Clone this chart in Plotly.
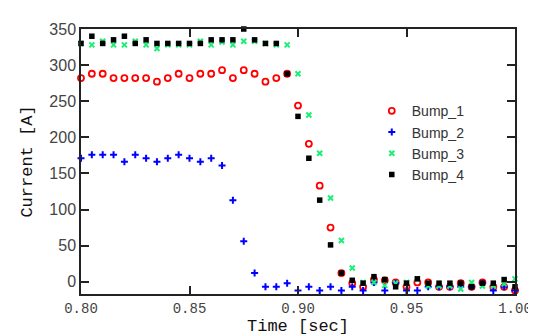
import plotly.graph_objects as go

time = [round(0.80 + 0.005 * i, 3) for i in range(41)]

bump_1 = [282, 288, 288, 282, 282, 282, 282, 277, 282, 288,
          282, 288, 288, 293, 282, 293, 288, 277, 282, 288,
          244, 191, 133, 75, 12, -2, -7, 3, 2, -1,
          -7, -1, -1, -7, -7, -2, -7, -1, -7, -7, -12]
bump_2 = [171, 176, 176, 176, 166, 176, 171, 166, 171, 176,
          171, 166, 171, 161, 113, 56, 12, -7, -7, -2,
          -12, -7, -12, -7, -12, -7, -12, -1, -12, -2,
          -12, -12, -7, -7, -7, -7, -7, -2, -12, -7, -12]
bump_3 = [330, 328, 333, 328, 328, 333, 328, 323, 328, 328,
          328, 333, 328, 332, 328, 333, 333, 330, 328, 328,
          288, 231, 178, 116, 57, 19, -1, -1, -5, -2,
          -1, 4, -6, -6, -6, -10, -1, -6, -6, -3, 4]
bump_4 = [330, 340, 330, 335, 340, 330, 335, 330, 330, 330,
          330, 330, 335, 335, 335, 350, 335, 330, 330, 288,
          229, 171, 113, 51, 12, 2, -2, 7, 3, -7,
          -2, 4, -2, -2, -2, -2, -7, -2, -2, 3, -7]

x_ticks = [0.80, 0.85, 0.90, 0.95, 1.00]
x_tick_labels = ["0.80", "0.85", "0.90", "0.95", "1.00"]
y_ticks = [0, 50, 100, 150, 200, 250, 300, 350]

fig = go.Figure()
fig.add_trace(go.Scatter(x=time, y=bump_1, mode="markers", name="Bump_1",
                         marker=dict(symbol="circle-open", size=6, color="#ff0000",
                                     line=dict(width=1.8, color="#ff0000"))))
fig.add_trace(go.Scatter(x=time, y=bump_2, mode="markers", name="Bump_2",
                         marker=dict(symbol="cross-thin", size=5, color="#0000ff",
                                     line=dict(width=2, color="#0000ff"))))
fig.add_trace(go.Scatter(x=time, y=bump_3, mode="markers", name="Bump_3",
                         marker=dict(symbol="x-thin", size=5, color="#19ef73",
                                     line=dict(width=2, color="#19ef73"))))
fig.add_trace(go.Scatter(x=time, y=bump_4, mode="markers", name="Bump_4",
                         marker=dict(symbol="square", size=5.5, color="#000000")))
fig.update_traces(cliponaxis=False)

axis_common = dict(showline=True, linecolor="#222", linewidth=1.5, mirror="ticks",
                   ticks="inside", ticklen=8, tickcolor="#222", tickwidth=1.5,
                   showgrid=False, zeroline=False)

fig.update_layout(
    width=536, height=336,
    margin=dict(l=73, r=20, t=21, b=42),
    paper_bgcolor="white", plot_bgcolor="white",
    font=dict(family="Liberation Sans", size=16, color="#444"),
    xaxis=dict(range=[0.80, 1.00], tickvals=x_ticks, ticktext=x_tick_labels,
               tickfont=dict(family="Liberation Mono", size=14, color="#444"),
               title=dict(text="Time [sec]", standoff=4,
                          font=dict(family="Liberation Mono", size=17, color="#111")),
               **axis_common),
    yaxis=dict(range=[-17, 350], tickvals=y_ticks,
               tickfont=dict(family="Liberation Sans", size=16, color="#444"),
               title=dict(text="Current [A]", standoff=12,
                          font=dict(family="Liberation Mono", size=17, color="#111")),
               **axis_common),
    legend=dict(x=0.67, y=0.75, xanchor="left", yanchor="top",
                bgcolor="rgba(0,0,0,0)", font=dict(size=14, color="#333"),
                tracegroupgap=0),
)

fig.write_html("out.html")
